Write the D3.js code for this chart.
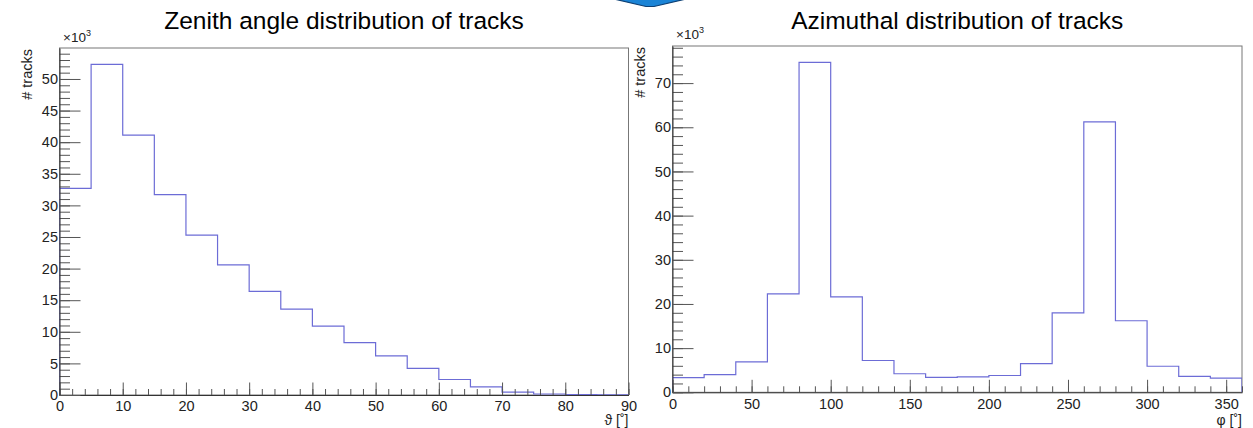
<!DOCTYPE html>
<html><head><meta charset="utf-8">
<script src="https://cdn.jsdelivr.net/npm/d3@7"></script>
<style>
body{margin:0;background:#fff;}
svg text{font-family:"Liberation Sans",Arial,Helvetica,sans-serif;}
</style></head>
<body><svg id="c" width="1253" height="428"></svg>
<script>
// ---- data ----
const zenithEdges = d3.range(0, 95, 5);             // 0..90
const zenithCounts = [32.7, 52.3, 41.1, 31.7, 25.3, 20.6, 16.4, 13.6, 10.9, 8.3, 6.2, 4.2, 2.45, 1.3, 0.47, 0.16, 0.06, 0.02]; // x10^3
const azimEdges = d3.range(0, 380, 20);             // 0..360
const azimCounts = [3.3, 4.0, 6.9, 22.3, 74.7, 21.6, 7.2, 4.2, 3.4, 3.5, 3.8, 6.5, 18.0, 61.2, 16.2, 5.9, 3.6, 3.2]; // x10^3
const zenithXTicks = [0,10,20,30,40,50,60,70,80,90];
const zenithYTicks = [0,5,10,15,20,25,30,35,40,45,50];
const azimXTicks = [0,50,100,150,200,250,300,350];
const azimYTicks = [0,10,20,30,40,50,60,70];
const titles = ["Zenith angle distribution of tracks", "Azimuthal distribution of tracks"];
const xTitles = ["ϑ [˚]", "φ [˚]"];
const yTitle = "# tracks";

const svg = d3.select("#c");

// decorative chevron at top
svg.append("path").attr("d","M614,-1 L686,-1 L654,6.5 L646,6.5 Z")
  .attr("fill","#1b84d6").attr("stroke","#0d3f73").attr("stroke-width",1.2);

function panel(cfg){
  const {x0,x1,y0,y1,xDom,yDom,edges,counts,xMajor,xMinorStep,yMajor,yMinorStep,yMinorMax,title,xTitle,id} = cfg;
  const x = d3.scaleLinear().domain(xDom).range([x0,x1]);
  const y = d3.scaleLinear().domain(yDom).range([y0,y1]);
  const g = svg.append("g");

  // frame
  g.append("rect").attr("x",x0).attr("y",y1).attr("width",x1-x0).attr("height",y0-y1)
    .attr("fill","none").attr("stroke","#777").attr("stroke-width",1);

  // clip
  svg.append("clipPath").attr("id","clip"+id).append("rect")
    .attr("x",x0).attr("y",y1-1).attr("width",x1-x0).attr("height",y0-y1+1);

  // histogram
  const pts = [[edges[0],0]].concat(edges.map((e,i)=>[e, counts[Math.min(i,counts.length-1)]]));
  pts.push([edges[edges.length-1],0]);
  const line = d3.line().x(d=>x(d[0])).y(d=>y(d[1])).curve(d3.curveStepAfter);
  g.append("path").attr("d",line(pts)).attr("fill","none")
    .attr("stroke","#6c6cd6").attr("stroke-width",1.2).attr("clip-path","url(#clip"+id+")");

  // x axis minor
  const xMinor = d3.range(xDom[0], xDom[1]+0.001, xMinorStep);
  g.append("g").attr("transform",`translate(0,${y0})`)
    .call(d3.axisBottom(x).tickValues(xMinor).tickSize(-6).tickSizeOuter(0).tickFormat(""))
    .call(s=>{s.select(".domain").remove(); s.selectAll("line").attr("stroke","#555");});
  // x axis major
  g.append("g").attr("transform",`translate(0,${y0})`)
    .call(d3.axisBottom(x).tickValues(xMajor).tickSize(-12.5).tickSizeOuter(0).tickPadding(6).tickFormat(d3.format("d")))
    .call(s=>{s.select(".domain").attr("stroke","#333");
      s.selectAll("line").attr("stroke","#555");
      s.selectAll("text").attr("font-size",14.5).attr("fill","#222").attr("font-family","Liberation Sans, Arial, sans-serif");});

  // y axis minor
  const yMinor = d3.range(0, yMinorMax+0.001, yMinorStep);
  g.append("g").attr("transform",`translate(${x0},0)`)
    .call(d3.axisLeft(y).tickValues(yMinor).tickSize(-10.5).tickSizeOuter(0).tickFormat(""))
    .call(s=>{s.select(".domain").remove(); s.selectAll("line").attr("stroke","#555");});
  // y axis major
  g.append("g").attr("transform",`translate(${x0},0)`)
    .call(d3.axisLeft(y).tickValues(yMajor).tickSize(-21).tickSizeOuter(0).tickPadding(1.5).tickFormat(d3.format("d")))
    .call(s=>{s.select(".domain").attr("stroke","#333");
      s.selectAll("line").attr("stroke","#555");
      s.selectAll("text").attr("font-size",14.5).attr("fill","#222").attr("font-family","Liberation Sans, Arial, sans-serif");});

  // titles
  g.append("text").attr("x",(x0+x1)/2).attr("y",29).attr("text-anchor","middle")
    .attr("font-size",24.5).attr("fill","#000").text(title);
  g.append("text").attr("x",x1).attr("y",cfg.xtY).attr("text-anchor","end")
    .attr("font-size",14).attr("fill","#222").text(xTitle);
  g.append("text").attr("transform",`translate(${cfg.ytX},${y1+1}) rotate(-90)`).attr("text-anchor","end")
    .attr("font-size",14.5).attr("fill","#222").text(yTitle);
  const m = g.append("text").attr("x",x0+3.5).attr("y",cfg.mulY).attr("font-size",13.5).attr("fill","#222");
  m.append("tspan").text("×10");
  m.append("tspan").attr("dy",-6).attr("font-size",9).text("3");
}

panel({id:"L",x0:59.5,x1:628.5,y0:395,y1:48,xDom:[0,90],yDom:[0,54.9],edges:zenithEdges,counts:zenithCounts,
  xMajor:zenithXTicks,xMinorStep:2,yMajor:zenithYTicks,yMinorStep:1,yMinorMax:54,
  title:titles[0],xTitle:xTitles[0],xtY:425,ytX:32,mulY:42});
panel({id:"R",x0:672.5,x1:1242,y0:392.3,y1:46,xDom:[0,360],yDom:[0,78.4],edges:azimEdges,counts:azimCounts,
  xMajor:azimXTicks,xMinorStep:10,yMajor:azimYTicks,yMinorStep:2,yMinorMax:78,
  title:titles[1],xTitle:xTitles[1],xtY:425,ytX:645,mulY:39});
</script></body></html>
